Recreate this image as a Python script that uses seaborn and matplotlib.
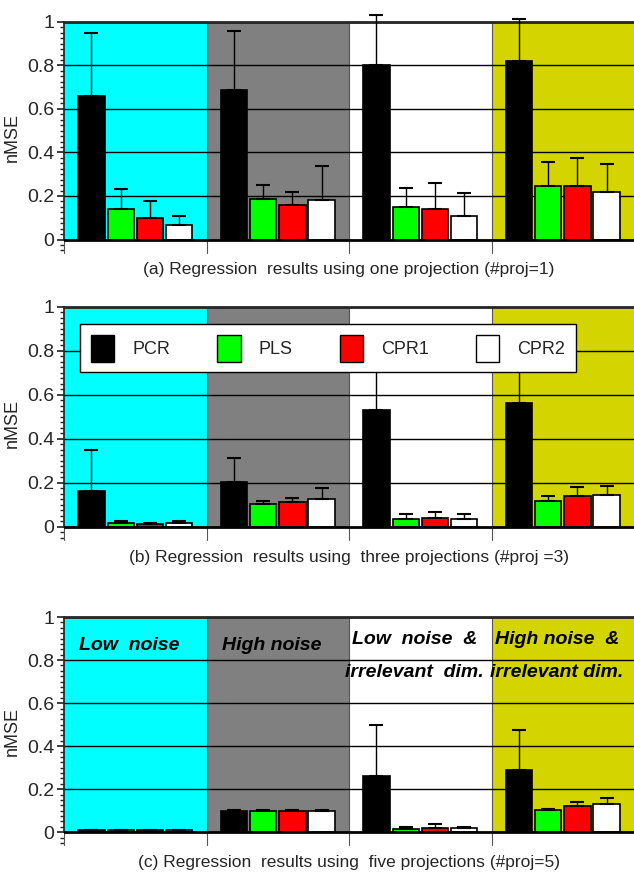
import numpy as np
import pandas as pd
import seaborn as sns
import matplotlib.pyplot as plt
from matplotlib.ticker import MultipleLocator

conditions = ['Low noise', 'High noise', 'Low noise & irr', 'High noise & irr']
methods = ['PCR', 'PLS', 'CPR1', 'CPR2']
method_colors = ['#000000', '#00ff00', '#ff0000', '#ffffff']
region_colors = ['#00ffff', '#808080', '#ffffff', '#d4d400']

# mean nMSE per panel [condition][method]
means_a = [[.66, .14, .10, .065], [.685, .185, .16, .18],
           [.80, .15, .14, .11], [.82, .245, .245, .22]]
upper_a = [[.95, .23, .175, .11], [.96, .25, .22, .34],
           [1.03, .235, .26, .215], [1.015, .355, .375, .345]]
means_b = [[.165, .02, .015, .02], [.205, .105, .115, .125],
           [.53, .035, .04, .035], [.565, .12, .14, .145]]
upper_b = [[.35, .025, .02, .025], [.315, .12, .13, .175],
           [.77, .06, .07, .06], [.78, .14, .18, .185]]
means_c = [[.01, .01, .01, .01], [.10, .10, .10, .10],
           [.26, .015, .02, .02], [.29, .105, .12, .13]]
upper_c = [[.012, .012, .012, .012], [.105, .105, .105, .105],
           [.50, .025, .04, .025], [.475, .11, .14, .16]]

captions = ['(a) Regression  results using one projection (#proj=1)',
            '(b) Regression  results using  three projections (#proj =3)',
            '(c) Regression  results using  five projections (#proj=5)']
region_labels = [['Low  noise'], ['High noise'],
                 ['Low  noise  &', 'irrelevant  dim.'],
                 ['High noise  &', 'irrelevant dim.']]

sns.set_theme(style='white')
plt.rcParams['font.family'] = ['Liberation Sans', 'DejaVu Sans']

fig = plt.figure(figsize=(6.34, 8.74), dpi=100)
boxes = [(0.975, 0.711), (0.649, 0.382), (0.294, 0.033)]
panels = [(means_a, upper_a), (means_b, upper_b), (means_c, upper_c)]

for k, ((top, bot), (means, upper)) in enumerate(zip(boxes, panels)):
    ax = fig.add_axes([0.101, bot, 0.899, top - bot])
    rows = []
    for i, c in enumerate(conditions):
        for j, m in enumerate(methods):
            rows.append({'cond': c, 'method': m, 'nMSE': means[i][j], 'up': upper[i][j]})
    df = pd.DataFrame(rows)

    for i, col in enumerate(region_colors):
        ax.fill_between([i - 0.5, i + 0.5], 0, 1, color=col, zorder=0, lw=0)
        if i > 0:
            ax.plot([i - 0.5, i - 0.5], [-0.06, 1], color='#555555', lw=0.8, zorder=1, clip_on=False)
    ax.plot([-0.5, -0.5], [-0.06, 0], color='#555555', lw=0.8, clip_on=False)
    for y in np.arange(0.2, 1.01, 0.2):
        ax.axhline(y, color='black', lw=1, zorder=1)
    ax.axhline(0, color='black', lw=2, zorder=3)

    sns.barplot(data=df, x='cond', y='nMSE', hue='method', order=conditions,
                hue_order=methods, palette=method_colors, saturation=1,
                errorbar=None, width=0.82, gap=0.1, edgecolor='black',
                linewidth=1.2, ax=ax, zorder=2, legend=False)
    # upper-only error bars, from bar patches (hue-major order)
    order = {**{m: n for n, m in enumerate(methods)},
             **{c: n for n, c in enumerate(conditions)}}
    dfs = df.sort_values(['method', 'cond'], key=lambda s: s.map(order))
    for p, (_, r) in zip(ax.patches, dfs.iterrows()):
        xc = p.get_x() + p.get_width() / 2
        ax.errorbar(xc, r.nMSE, yerr=[[0], [r.up - r.nMSE]], color='black',
                    lw=1, capsize=5, capthick=1.5, zorder=4, clip_on=False)

    ax.set_xlim(-0.5, 3.5)
    ax.set_ylim(-0.06, 1)
    ax.set_yticks([0, 0.2, 0.4, 0.6, 0.8, 1])
    ax.set_yticklabels(['0', '0.2', '0.4', '0.6', '0.8', '1'])
    ax.yaxis.set_minor_locator(MultipleLocator(0.025))
    ax.tick_params(axis='y', which='major', left=True, length=5, labelsize=14, pad=2)
    ax.tick_params(axis='y', which='minor', left=True, length=3)
    ax.spines['left'].set_bounds(0, 1)
    ax.spines['bottom'].set_visible(False)
    ax.spines['right'].set_visible(False)
    ax.spines['top'].set_linewidth(2)
    ax.set_xticks([])
    ax.set_xlabel('')
    ax.set_ylabel('nMSE', fontsize=13, labelpad=2)
    ax.yaxis.set_label_coords(-0.075, 0.5)
    ax.text(0.5, -0.075, captions[k], transform=ax.transAxes, ha='center',
            va='center', fontsize=12.5)

    if k == 1:
        handles = [plt.Rectangle((0, 0), 1, 1, fc=c, ec='black') for c in method_colors]
        ax.legend(handles, methods, ncol=4, loc='upper left',
                  bbox_to_anchor=(0.012, 0.965), fontsize=13, frameon=True,
                  edgecolor='black', fancybox=False, framealpha=1,
                  handlelength=1.3, handleheight=1.9, columnspacing=2.6,
                  handletextpad=1.0, borderpad=0.6).set_zorder(6)
    if k == 2:
        kw = dict(ha='center', va='center', fontsize=14, fontweight='bold',
                  fontstyle='italic', color='black')
        for i, lab in enumerate(region_labels):
            if len(lab) == 1:
                ax.text(i - 0.04, 0.87, lab[0], **kw)
            else:
                ax.text(i - 0.04, 0.895, lab[0], **kw)
                ax.text(i - 0.04, 0.74, lab[1], **kw)

fig.savefig('out.png', dpi=100)
